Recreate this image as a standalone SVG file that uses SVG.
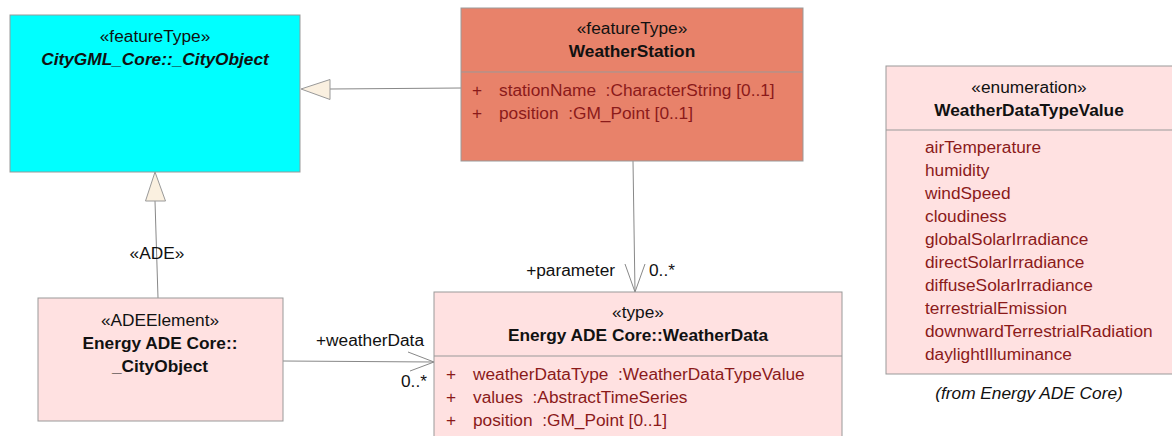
<svg xmlns="http://www.w3.org/2000/svg" width="1172" height="436" viewBox="0 0 1172 436">
<style>
text{font-family:"Liberation Sans",Arial,sans-serif;font-size:17.3px;}
.c{text-anchor:middle;fill:#111;}
.b{font-weight:bold;}
.i{font-style:italic;}
.a{fill:#8B1A1A;}
.box{stroke:#999;stroke-width:1;}
.sep{stroke:#999;stroke-width:1;}
.ln{stroke:#888;stroke-width:1;fill:none;}
.gen{fill:#FAF0E0;stroke:#999;stroke-width:1;}
.lbl{fill:#111;}
</style>
<rect width="1172" height="436" fill="#fff"/>
<g id="connectors">
  <line class="ln" x1="461" y1="88" x2="330" y2="89"/>
  <polygon class="gen" points="301,89 330,79.5 330,99.5"/>
  <line class="ln" x1="158" y1="298" x2="155" y2="201"/>
  <polygon class="gen" points="155,172 145.5,201 165.5,201"/>
  <text class="lbl" x="157" y="259" text-anchor="middle">«ADE»</text>
  <line class="ln" x1="633" y1="161" x2="635" y2="292"/>
  <polyline class="ln" points="625,264 635,292 645,264"/>
  <text class="lbl" x="615" y="276" text-anchor="end">+parameter</text>
  <text class="lbl" x="649" y="276">0..*</text>
  <line class="ln" x1="283" y1="361" x2="434" y2="362"/>
  <polyline class="ln" points="408,352 434,362 410,371"/>
  <text class="lbl" x="370" y="346" text-anchor="middle">+weatherData</text>
  <text class="lbl" x="401" y="387">0..*</text>
</g>
<g id="node-cityobject">
  <rect class="box" x="10" y="15" width="290" height="157" fill="#00FFFF"/>
  <text class="c" x="155" y="42">«featureType»</text>
  <text class="c b i" x="155" y="65">CityGML_Core::_CityObject</text>
</g>
<g id="node-weatherstation">
  <rect class="box" x="461" y="8" width="342" height="153" fill="#E8826A"/>
  <line class="sep" x1="461" y1="72" x2="803" y2="72" stroke="#B86050"/>
  <text class="c" x="632" y="34">«featureType»</text>
  <text class="c b" x="632" y="57">WeatherStation</text>
  <text class="a" x="472" y="96">+</text>
  <text class="a" x="499" y="96" xml:space="preserve">stationName  :CharacterString [0..1]</text>
  <text class="a" x="472" y="119">+</text>
  <text class="a" x="499" y="119" xml:space="preserve">position  :GM_Point [0..1]</text>
</g>
<g id="node-adeelement">
  <rect class="box" x="38" y="298" width="245" height="123" fill="#FFE1E1"/>
  <text class="c" x="160" y="326">«ADEElement»</text>
  <text class="c b" x="160" y="349">Energy ADE Core::</text>
  <text class="c b" x="160" y="372">_CityObject</text>
</g>
<g id="node-weatherdata">
  <rect class="box" x="434" y="292" width="408" height="150" fill="#FFE1E1"/>
  <line class="sep" x1="434" y1="356" x2="842" y2="356"/>
  <text class="c" x="638" y="318">«type»</text>
  <text class="c b" x="638" y="341">Energy ADE Core::WeatherData</text>
  <text class="a" x="446" y="380">+</text>
  <text class="a" x="473" y="380" xml:space="preserve">weatherDataType  :WeatherDataTypeValue</text>
  <text class="a" x="446" y="403">+</text>
  <text class="a" x="473" y="403" xml:space="preserve">values  :AbstractTimeSeries</text>
  <text class="a" x="446" y="426">+</text>
  <text class="a" x="473" y="426" xml:space="preserve">position  :GM_Point [0..1]</text>
</g>
<g id="node-enumeration">
  <rect class="box" x="886" y="66" width="300" height="308" fill="#FFE1E1"/>
  <line class="sep" x1="886" y1="130" x2="1172" y2="130"/>
  <text class="c" x="1029" y="93">«enumeration»</text>
  <text class="c b" x="1029" y="116">WeatherDataTypeValue</text>
  <text class="a" x="925" y="153">airTemperature</text>
  <text class="a" x="925" y="176">humidity</text>
  <text class="a" x="925" y="199">windSpeed</text>
  <text class="a" x="925" y="222">cloudiness</text>
  <text class="a" x="925" y="245">globalSolarIrradiance</text>
  <text class="a" x="925" y="268">directSolarIrradiance</text>
  <text class="a" x="925" y="291">diffuseSolarIrradiance</text>
  <text class="a" x="925" y="314">terrestrialEmission</text>
  <text class="a" x="925" y="337">downwardTerrestrialRadiation</text>
  <text class="a" x="925" y="360">daylightIlluminance</text>
  <text class="c i" x="1029" y="399" fill="#333">(from Energy ADE Core)</text>
</g>
</svg>
